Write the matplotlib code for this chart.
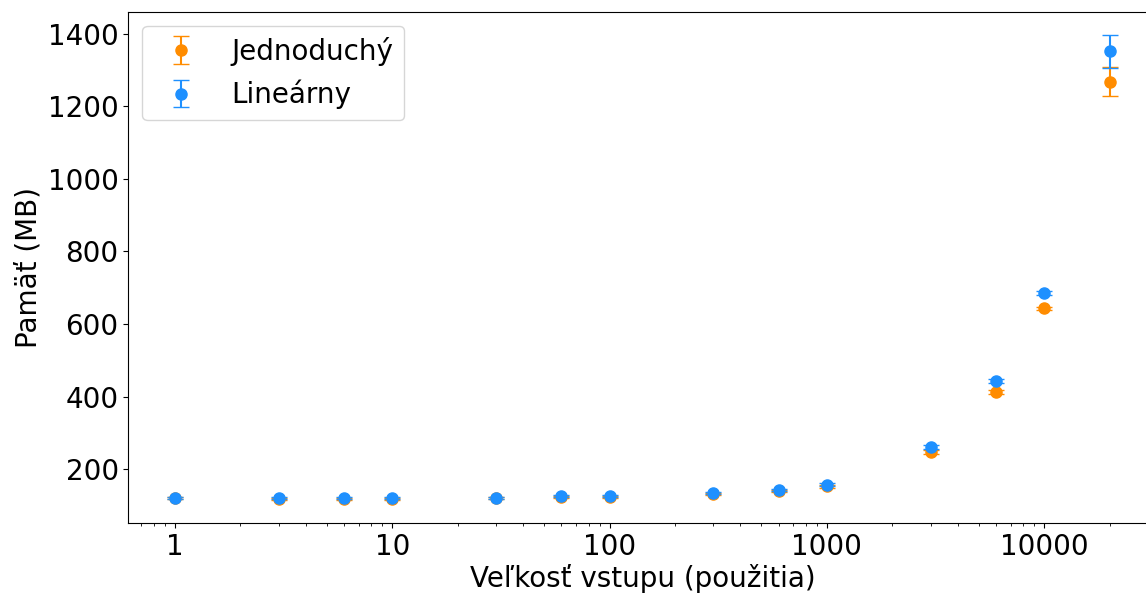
import matplotlib
matplotlib.use("Agg")
from matplotlib import pyplot as plt
from matplotlib.ticker import FuncFormatter

# input sizes (number of uses)
sizes = [1, 3, 6, 10, 30, 60, 100, 300, 600, 1000, 3000, 6000, 10000, 20000]

# memory in MB, mean and spread
simple_mem = [121, 119, 119, 119, 121, 124, 124, 132, 140, 153, 248, 413, 643, 1268]
simple_err = [3, 3, 3, 3, 3, 3, 3, 3, 3, 4, 5, 6, 5, 39]
linear_mem = [122, 120, 120, 121, 122, 126, 126, 134, 143, 158, 261, 443, 686, 1351]
linear_err = [3, 3, 3, 3, 3, 3, 3, 3, 3, 4, 5, 6, 5, 45]

plt.rcParams['font.size'] = 20

fig, ax = plt.subplots(figsize=(11.46, 5.95), dpi=100)
ax.errorbar(sizes, simple_mem, yerr=simple_err, fmt='o', color='darkorange',
            markersize=8, capsize=6, label='Jednoduchý')
ax.errorbar(sizes, linear_mem, yerr=linear_err, fmt='o', color='dodgerblue',
            markersize=8, capsize=6, label='Lineárny')

ax.set_xscale('log')
ax.xaxis.set_major_formatter(FuncFormatter(lambda v, p: f'{v:g}'))
ax.set_xlabel('Veľkosť vstupu (použitia)', labelpad=2)
ax.set_ylabel('Pamäť (MB)')
ax.legend(loc='upper left')

# the original image is cut off at the right, past the last point
fig.subplots_adjust(left=0.112, right=1.009, top=0.98, bottom=0.121)
fig.savefig('out.png')
